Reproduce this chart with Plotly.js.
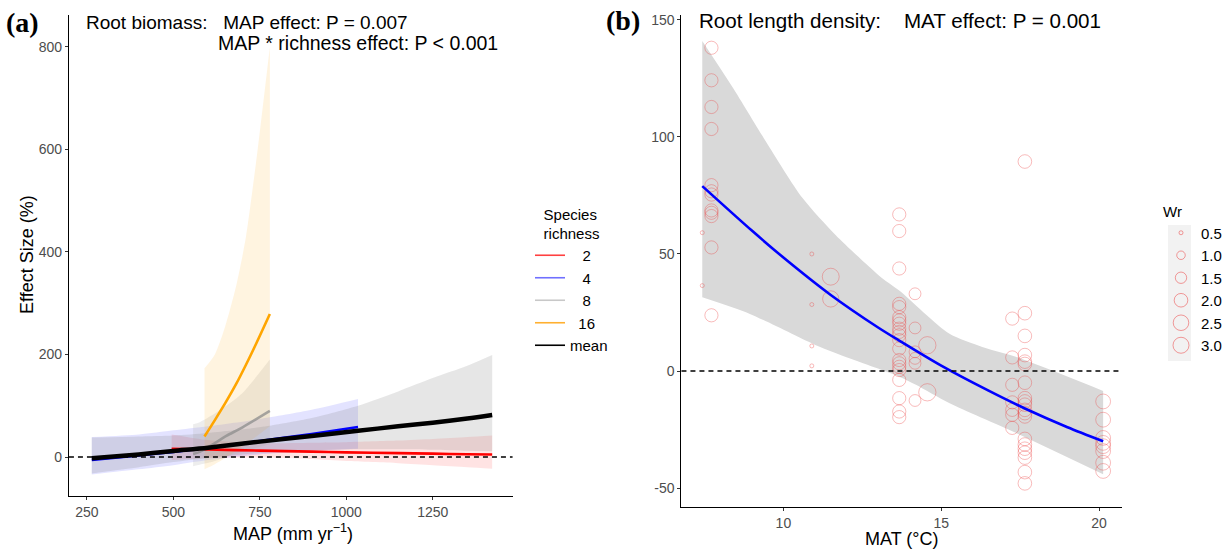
<!DOCTYPE html>
<html><head><meta charset="utf-8">
<script src="https://cdn.plot.ly/plotly-3.0.1.min.js"></script>
<style>html,body{margin:0;padding:0;background:#fff}#chart{width:1227px;height:553px}</style>
</head><body><div id="chart"></div>
<script>
// ---------- Panel (a): root biomass vs MAP ----------
const mapRich2 = [495, 600, 750, 900, 1000, 1150, 1250, 1350, 1422];
const effRich2 = [16, 14.5, 12.5, 10.5, 9, 7.5, 6.5, 5.5, 5];
const upRich2  = [44, 33, 27, 28, 29, 32, 35, 39, 42];
const loRich2  = [-6, -2, -1, -4, -8, -12, -16, -20, -23];

const mapRich4 = [264, 400, 500, 600, 750, 900, 1034];
const effRich4 = [-6, 3, 10, 18, 31, 45, 58.5];
const upRich4  = [39, 44, 52, 60, 74, 92, 113];
const loRich4  = [-34, -24, -16, -6, 5, 12, 16];

const mapRich8 = [557, 576, 620, 653, 700, 779];
const effRich8 = [6, 10, 27, 41, 58, 90];
const upRich8  = [64, 68, 85, 100, 125, 190];
const loRich8  = [-18, -15, -8, 0, 10, 25];

const mapRich16 = [590, 620, 650, 682, 710, 740, 779];
const effRich16 = [40, 72, 105, 143, 180, 222, 279];
const upRich16  = [173, 200, 255, 335, 430, 580, 800];
const loRich16  = [-24, -14, -2, 12, 25, 40, 60];

const mapMean = [264, 400, 500, 600, 750, 900, 1034, 1150, 1250, 1350, 1422];
const effMean = [-2.6, 5, 11.7, 18, 30, 41, 51, 60, 67, 75, 82];
const upMean  = [38, 40, 42, 47, 58, 76, 100, 128, 154, 178, 199];
const loMean  = [-32, -20, -10, -2, 8, 13, 15, 15, 14, 12, 11];

const richLabels = ["2", "4", "8", "16", "mean"];
const mapTicks = [250, 500, 750, 1000, 1250];
const effTicksA = [0, 200, 400, 600, 800];

// ---------- Panel (b): root length density vs MAT ----------
const matObs = [
  7.43, 7.43,
  7.72, 7.72, 7.72, 7.72, 7.72, 7.72, 7.72, 7.72, 7.72, 7.72, 7.72, 7.72,
  10.9, 10.9, 10.9, 10.9,
  11.5, 11.5,
  13.67, 13.67, 13.67, 13.67, 13.67, 13.67, 13.67, 13.67, 13.67, 13.67, 13.67, 13.67, 13.67, 13.67, 13.67, 13.67, 13.67, 13.67, 13.67, 13.67, 13.67,
  14.17, 14.17, 14.17, 14.17, 14.17, 14.17,
  14.56, 14.56,
  17.25, 17.25, 17.25, 17.25, 17.25, 17.25, 17.25,
  17.65, 17.65, 17.65, 17.65, 17.65, 17.65, 17.65, 17.65, 17.65, 17.65, 17.65, 17.65, 17.65, 17.65, 17.65, 17.65, 17.65, 17.65, 17.65, 17.65,
  20.13, 20.13, 20.13, 20.13, 20.13, 20.13, 20.13, 20.13
];
const rldObs = [
  59.1, 36.5,
  138.1, 124.2, 112.8, 103.4, 79.4, 76.8, 75.4, 68.6, 67.6, 66.2, 52.8, 23.8,
  50, 28.4, 10.7, 2.2,
  40.3, 30.8,
  66.9, 59.8, 43.8, 28.7, 27.3, 23.0, 21.6, 20.2, 18.1, 16.7, 15.3, 13.2, 9.6, 4.7, 3.3, 1.8, 0.4, -3.8, -11.6, -17.3, -19.7,
  33.0, 18.4, 8.2, 5.4, 3.3, -12.6,
  11.0, -9.1,
  22.4, 5.8, -5.9, -13.4, -16.6, -18.7, -24.3,
  89.5, 24.7, 15.0, 6.8, 4.0, 3.0, -5.0, -11.6, -13.0, -14.4, -16.6, -18.0, -19.4, -29.0, -31.4, -33.2, -34.9, -37.0, -43.2, -48.0,
  -13.0, -20.8, -28.6, -30.7, -32.1, -34.2, -39.2, -42.7
];
const wrObs = [
  0.5, 0.5,
  1.9, 1.9, 1.9, 1.9, 1.9, 1.9, 1.9, 1.9, 1.9, 1.9, 1.9, 1.9,
  0.5, 0.5, 0.5, 0.5,
  2.9, 2.7,
  1.9, 1.9, 1.9, 1.9, 1.9, 1.9, 1.9, 1.9, 1.9, 1.9, 1.9, 1.9, 1.9, 1.9, 1.9, 1.9, 1.9, 1.9, 1.9, 1.9, 1.9,
  1.6, 1.6, 1.6, 1.6, 1.6, 1.6,
  3.0, 3.0,
  1.9, 1.9, 1.9, 1.9, 1.9, 1.9, 1.9,
  2.0, 2.0, 2.0, 2.0, 2.0, 2.0, 2.0, 2.0, 2.0, 2.0, 2.0, 2.0, 2.0, 2.0, 2.0, 2.0, 2.0, 2.0, 2.0, 2.0,
  2.3, 2.3, 2.3, 2.3, 2.3, 2.3, 2.3, 2.3
];
const matFit = [7.43, 9, 10, 11.5, 13, 13.67, 15, 16.5, 17.65, 19, 20.13];
const rldFit = [79, 60, 48.5, 32.5, 18.6, 13, 2.3, -8.4, -16, -24, -30];
const matUp = [7.43, 8.4, 9.45, 10.6, 11.66, 13.1, 13.67, 15.25, 16.3, 17.36, 20.13];
const rldUp = [141, 121, 98, 74, 58, 40, 34.4, 16, 10.3, 6.1, -8.5];
const matLo = [7.43, 8.92, 11.03, 12.09, 13.67, 14.2, 15.25, 17.36, 20.13];
const rldLo = [31.5, 24.5, 11, 5.4, -2.4, -5.9, -13.7, -26.4, -44.1];

const wrLegend = [0.5, 1.0, 1.5, 2.0, 2.5, 3.0];
const matTicks = [10, 15, 20];
const effTicksB = [-50, 0, 50, 100, 150];

// ---------- helpers ----------
function wrDiam(w) { return Math.sqrt(16 + 113 * (w - 0.5)); }
function bandPair(xu, up, xl, lo, fill, xa, ya) {
  return [
    {x: xl, y: lo, type: 'scatter', mode: 'lines', line: {width: 0, shape: 'spline', smoothing: 0.7},
      hoverinfo: 'skip', showlegend: false, xaxis: xa, yaxis: ya},
    {x: xu, y: up, type: 'scatter', mode: 'lines', fill: 'tonexty', fillcolor: fill,
      line: {width: 0, shape: 'spline', smoothing: 0.7}, hoverinfo: 'skip', showlegend: false, xaxis: xa, yaxis: ya}
  ];
}
function line(xs, ys, color, w, xa, ya) {
  return {x: xs, y: ys, type: 'scatter', mode: 'lines', line: {color: color, width: w, shape: 'spline', smoothing: 0.8},
    showlegend: false, xaxis: xa, yaxis: ya};
}

const traces = [].concat(
  bandPair(mapRich2, upRich2, mapRich2, loRich2, 'rgba(255,0,0,0.11)', 'x', 'y'),
  bandPair(mapRich4, upRich4, mapRich4, loRich4, 'rgba(0,0,255,0.11)', 'x', 'y'),
  bandPair(mapRich8, upRich8, mapRich8, loRich8, 'rgba(185,185,185,0.25)', 'x', 'y'),
  bandPair(mapRich16, upRich16, mapRich16, loRich16, 'rgba(255,165,0,0.12)', 'x', 'y'),
  bandPair(mapMean, upMean, mapMean, loMean, 'rgba(128,128,128,0.2)', 'x', 'y'),
  [
    line(mapRich2, effRich2, '#ff0000', 2.6, 'x', 'y'),
    line(mapRich4, effRich4, '#0000ff', 2.6, 'x', 'y'),
    line(mapRich8, effRich8, 'rgba(140,140,140,0.75)', 2.6, 'x', 'y'),
    line(mapRich16, effRich16, '#ffa500', 2.6, 'x', 'y'),
    line(mapMean, effMean, '#000000', 4.5, 'x', 'y')
  ]
);
const legColors = ['#ff4040', '#7070ff', '#c8c8c8', '#ffb030', '#000000'];
const nb = '\u00a0';
const legPad = [nb + nb + nb, nb + nb + nb, nb + nb + nb, nb + nb, ''];
richLabels.forEach((lab, i) => {
  traces.push({x: [null], y: [null], type: 'scatter', mode: 'lines', name: legPad[i] + lab,
    line: {color: legColors[i], width: 1.6}, xaxis: 'x', yaxis: 'y', legend: 'legend', showlegend: true});
});

// panel b
bandPair(matUp, rldUp, matLo, rldLo, '#d9d9d9', 'x2', 'y2').forEach(t => traces.push(t));
traces.push({x: matObs, y: rldObs, type: 'scatter', mode: 'markers', showlegend: false,
  marker: {symbol: 'circle-open', size: wrObs.map(wrDiam), color: 'rgba(235,60,60,0.5)', line: {width: 1}},
  xaxis: 'x2', yaxis: 'y2'});
traces.push(line(matFit, rldFit, '#0000ff', 2.6, 'x2', 'y2'));
wrLegend.forEach(w => {
  traces.push({x: [null], y: [null], type: 'scatter', mode: 'markers', name: w.toFixed(1),
    marker: {symbol: 'circle-open', size: wrDiam(w), color: 'rgba(235,60,60,0.5)', line: {width: 1}},
    xaxis: 'x2', yaxis: 'y2', legend: 'legend2', showlegend: true});
});

const tickFont = {family: 'Liberation Sans, Arial, sans-serif', size: 14, color: '#4d4d4d'};
function axis(domain, range, tickvals, anchor) {
  return {domain: domain, range: range, tickvals: tickvals, ticktext: tickvals.map(String),
    showgrid: false, zeroline: false, showline: true, linecolor: '#000', linewidth: 1.1,
    ticks: 'outside', ticklen: 3, tickcolor: '#333', tickwidth: 1, tickfont: tickFont,
    anchor: anchor, fixedrange: true};
}
const txt = {family: 'Liberation Sans, Arial, sans-serif', color: '#000'};
const layout = {
  width: 1227, height: 553, margin: {l: 0, r: 0, t: 0, b: 0},
  paper_bgcolor: '#fff', plot_bgcolor: 'rgba(0,0,0,0)',
  xaxis: axis([69/1227, 513/1227], [198, 1481], mapTicks, 'y'),
  yaxis: axis([1-496/553, 1-15/553], [-76.1, 862.4], effTicksA, 'x'),
  xaxis2: axis([682/1227, 1123/1227], [6.77, 20.73], matTicks, 'y2'),
  yaxis2: axis([1-507/553, 1-15/553], [-58.1, 152.1], effTicksB, 'x2'),
  legend: {x: 530/1227, y: 1-200/553, xanchor: 'left', yanchor: 'top', bgcolor: 'rgba(0,0,0,0)',
    traceorder: 'normal', font: Object.assign({size: 15}, txt), itemwidth: 30,
    title: {text: 'Species<br>richness', side: 'top center', font: Object.assign({size: 15}, txt)}},
  legend2: {x: 1162/1227, y: 1-197/553, xanchor: 'left', yanchor: 'top', bgcolor: 'rgba(0,0,0,0)',
    traceorder: 'normal', font: Object.assign({size: 15}, txt), itemwidth: 30, itemsizing: 'trace',
    title: {text: 'Wr', side: 'top', font: Object.assign({size: 15}, txt)}},
  shapes: [
    {type: 'line', xref: 'x domain', yref: 'y', x0: 0, x1: 1, y0: 0, y1: 0, layer: 'above',
      line: {color: '#000', width: 1.3, dash: '5px,4px'}},
    {type: 'line', xref: 'x2 domain', yref: 'y2', x0: 0, x1: 1, y0: 0, y1: 0, layer: 'above',
      line: {color: '#000', width: 1.3, dash: '5px,4px'}},
    {type: 'rect', xref: 'paper', yref: 'paper', x0: 1169/1227, x1: 1192/1227, y0: 1-361/553, y1: 1-225/553,
      fillcolor: '#f2f2f2', line: {width: 0}, layer: 'below'}
  ],
  annotations: [
    {text: '<b>(a)</b>', x: 4/1227, y: 1-23/553, xref: 'paper', yref: 'paper', xanchor: 'left', yanchor: 'middle',
      showarrow: false, font: {family: 'Liberation Serif, Times New Roman, serif', size: 28, color: '#000'}},
    {text: '<b>(b)</b>', x: 604/1227, y: 1-21/553, xref: 'paper', yref: 'paper', xanchor: 'left', yanchor: 'middle',
      showarrow: false, font: {family: 'Liberation Serif, Times New Roman, serif', size: 28, color: '#000'}},
    {text: 'Root biomass:' + nb + nb + nb + 'MAP effect: P = 0.007', x: 84/1227, y: 1-22/553, xref: 'paper', yref: 'paper',
      xanchor: 'left', yanchor: 'middle', showarrow: false, font: Object.assign({size: 19}, txt)},
    {text: 'MAP * richness effect: P < 0.001', x: 216/1227, y: 1-43/553, xref: 'paper', yref: 'paper',
      xanchor: 'left', yanchor: 'middle', showarrow: false, font: Object.assign({size: 19.5}, txt)},
    {text: 'Root length density:' + nb + nb + nb + nb + 'MAT effect: P = 0.001', x: 698/1227, y: 1-21/553, xref: 'paper', yref: 'paper',
      xanchor: 'left', yanchor: 'middle', showarrow: false, font: Object.assign({size: 20.6}, txt)},
    {text: 'Effect Size (%)', x: 27/1227, y: 1-254/553, xref: 'paper', yref: 'paper', textangle: -90,
      xanchor: 'center', yanchor: 'middle', showarrow: false, font: Object.assign({size: 18}, txt)},
    {text: 'MAP (mm yr<sup>−1</sup>)', x: 293/1227, y: 1-532/553, xref: 'paper', yref: 'paper',
      xanchor: 'center', yanchor: 'middle', showarrow: false, font: Object.assign({size: 18}, txt)},
    {text: 'MAT (°C)', x: 903/1227, y: 1-539/553, xref: 'paper', yref: 'paper',
      xanchor: 'center', yanchor: 'middle', showarrow: false, font: Object.assign({size: 18}, txt)}
  ]
};
Plotly.newPlot('chart', traces, layout, {displayModeBar: false, staticPlot: true});
</script></body></html>
